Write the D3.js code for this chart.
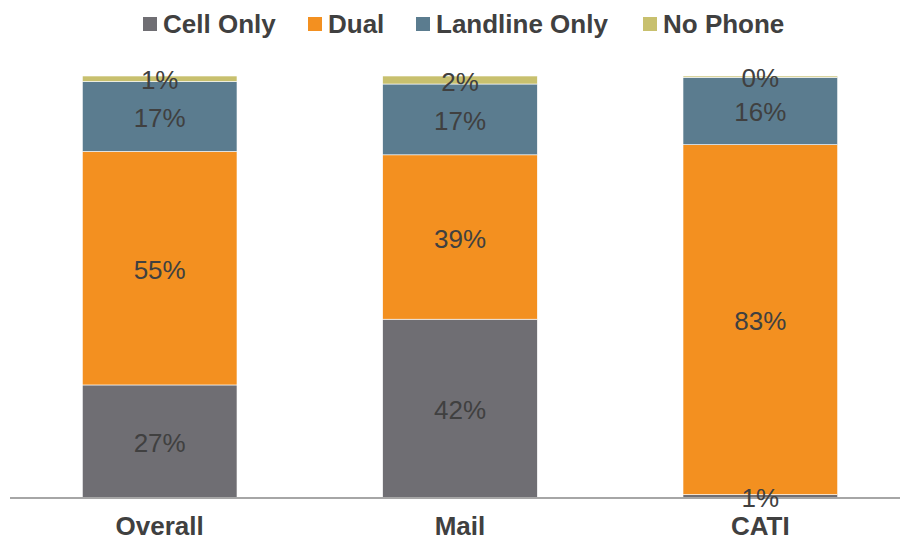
<!DOCTYPE html>
<html>
<head>
<meta charset="utf-8">
<script src="https://cdn.jsdelivr.net/npm/d3@7"></script>
<style>
body { margin: 0; background: #fff; }
svg { display: block; font-family: "Liberation Sans", Arial, sans-serif; }
</style>
</head>
<body>
<svg width="901" height="542"></svg>
<script>
const categories = ['Overall', 'Mail', 'CATI'];
const series = ['Cell Only', 'Dual', 'Landline Only', 'No Phone'];
const cell_only = [26.7, 42.3, 0.7];
const dual = [55.4, 39.0, 83.0];
const landline_only = [16.6, 16.8, 16.0];
const no_phone = [1.3, 1.9, 0.3];
const colors = ['#6f6e73', '#f39020', '#5b7c8f', '#c8c06e'];

const svg = d3.select('svg');

// build rows for stacking
const rows = categories.map((c, i) => ({
	cat: c,
	'Cell Only': cell_only[i],
	'Dual': dual[i],
	'Landline Only': landline_only[i],
	'No Phone': no_phone[i]
}));
const stacked = d3.stack().keys(series)(rows);

const x = d3.scaleBand().domain(categories).range([9.5, 910.5]).paddingInner(0.485).paddingOuter(0.2425);
const y = d3.scaleLinear().domain([0, 100]).range([497.5, 76]);
const color = d3.scaleOrdinal().domain(series).range(colors);

// bars
const layer = svg.append('g').selectAll('g')
	.data(stacked)
	.enter().append('g')
	.attr('fill', d => color(d.key));

layer.selectAll('rect')
	.data(d => d)
	.enter().append('rect')
	.attr('x', d => x(d.data.cat))
	.attr('width', x.bandwidth())
	.attr('y', d => y(d[1]))
	.attr('height', d => y(d[0]) - y(d[1]))
	.attr('stroke', '#fff')
	.attr('stroke-width', 0.6);

// axis line
svg.append('line')
	.attr('x1', 10).attr('x2', 900)
	.attr('y1', y(0) + 0.5).attr('y2', y(0) + 0.5)
	.attr('stroke', '#a6a6a6')
	.attr('stroke-width', 2);

// value labels
stacked.forEach(s => {
	svg.append('g').selectAll('text')
		.data(s)
		.enter().append('text')
		.attr('x', d => x(d.data.cat) + x.bandwidth() / 2)
		.attr('y', d => (y(d[0]) + y(d[1])) / 2 + 1.5)
		.attr('text-anchor', 'middle')
		.attr('dominant-baseline', 'central')
		.attr('font-size', '26px')
		.attr('fill', '#404040')
		.text(d => Math.round(d[1] - d[0]) + '%');
});

// category labels
svg.append('g').selectAll('text')
	.data(categories)
	.enter().append('text')
	.attr('x', d => x(d) + x.bandwidth() / 2)
	.attr('y', 535)
	.attr('text-anchor', 'middle')
	.attr('font-size', '26px')
	.attr('font-weight', 'bold')
	.attr('fill', '#404040')
	.text(d => d);

// legend
const legend_x = [143, 308, 416, 643];
const legend = svg.append('g').selectAll('g')
	.data(series)
	.enter().append('g')
	.attr('transform', (d, i) => 'translate(' + legend_x[i] + ',0)');
legend.append('rect')
	.attr('x', 0).attr('y', 17)
	.attr('width', 14).attr('height', 14)
	.attr('fill', d => color(d));
legend.append('text')
	.attr('x', 20).attr('y', 33)
	.attr('font-size', '26px')
	.attr('font-weight', 'bold')
	.attr('fill', '#404040')
	.text(d => d);
</script>
</body>
</html>
